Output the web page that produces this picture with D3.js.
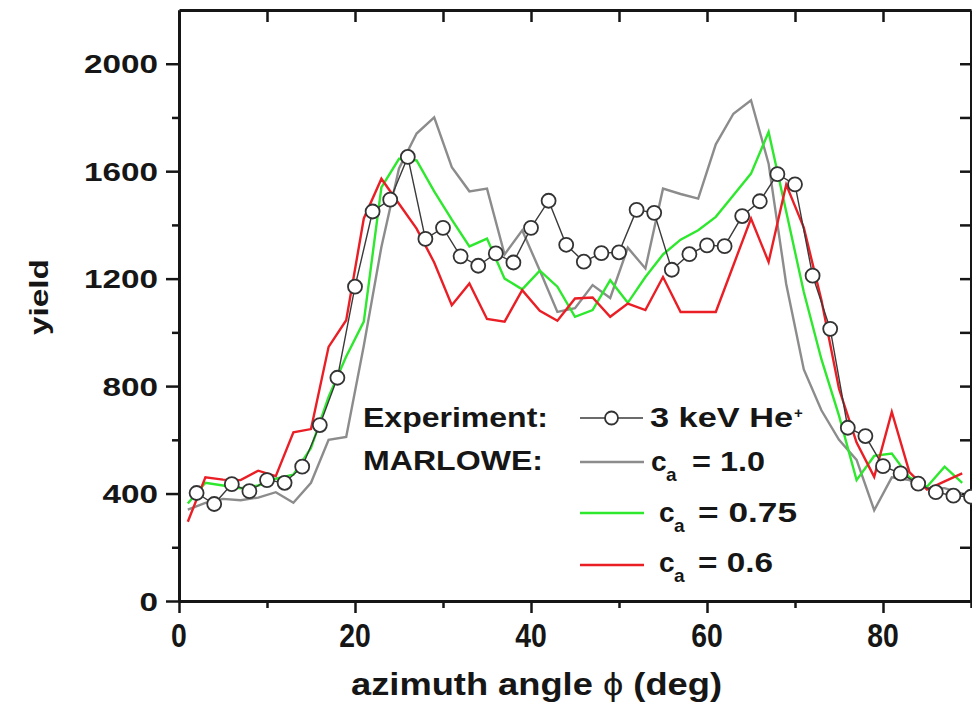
<!DOCTYPE html>
<html><head><meta charset="utf-8">
<script src="https://cdn.jsdelivr.net/npm/d3@7"></script>
<style>
body{margin:0;background:#fff}
text{font-family:"Liberation Sans",Arial,sans-serif;font-weight:bold;fill:#161616}
</style>
</head><body>
<svg id="c" width="972" height="706"></svg>
<script>
// ---------- data ----------
const expAngle = [2,4,6,8,10,12,14,16,18,20,22,24,26,28,30,32,34,36,38,40,42,44,46,48,50,52,54,56,58,60,62,64,66,68,70,72,74,76,78,80,82,84,86,88,90];
const expYield = [402,361,435,409,450,440,500,655,831,1170,1450,1494,1653,1348,1389,1283,1248,1294,1260,1389,1490,1326,1263,1295,1298,1456,1445,1233,1291,1324,1321,1433,1488,1589,1551,1211,1013,645,614,502,475,437,405,392,388];

const simAngle = [1,3,5,7,9,11,13,15,17,19,21,23,25,27,29,31,33,35,37,39,41,43,45,47,49,51,53,55,57,59,61,63,65,67,69,71,73,75,77,79,81,83,85,87,89];
const yieldCa100 = [340,365,380,375,385,405,366,440,600,611,950,1318,1610,1740,1800,1615,1525,1535,1290,1380,1230,1076,1090,1176,1128,1315,1238,1535,1515,1498,1700,1814,1864,1628,1180,862,710,600,525,338,460,450,420,420,400];
const yieldCa075 = [363,440,430,420,430,455,470,570,760,910,1040,1540,1646,1640,1525,1420,1320,1349,1200,1160,1230,1170,1058,1083,1194,1110,1206,1290,1345,1380,1430,1510,1591,1746,1450,1150,900,690,450,540,549,460,425,500,440];
const yieldCa060 = [295,460,452,450,485,465,628,640,946,1045,1424,1572,1479,1386,1260,1101,1182,1050,1040,1157,1080,1043,1126,1130,1058,1107,1083,1206,1076,1076,1076,1250,1424,1262,1550,1390,1120,790,590,462,704,480,415,445,475];

const xMajorTicks = [0,20,40,60,80];
const xMinorTicks = [10,30,50,70,90];
const xFrameTicks = [10,20,30,40,50,60,70,80];
const yMajorTicks = [0,400,800,1200,1600,2000];
const yMinorTicks = [200,600,1000,1400,1800];
const yFrameTicks = [200,400,600,800,1000,1200,1400,1600,1800,2000];

const seriesNames = ["3 keV He", "1.0", "0.75", "0.6"];
const seriesColors = ["#3a3a3a", "#8c8c8c", "#2de82d", "#ea1f26"];

// ---------- scales ----------
const svg = d3.select("#c");
const x = d3.scaleLinear().domain([0, 90]).range([179, 971]);
const y = d3.scaleLinear().domain([0, 2200]).range([601, 10]);

// ---------- axes ----------
function styleAxis(g, w) {
  g.select(".domain").attr("stroke", "#161616").attr("stroke-width", 3);
  g.selectAll(".tick line").attr("stroke", "#161616").attr("stroke-width", w || 2.5);
  g.selectAll(".tick text").remove();
}
const axes = svg.append("g");
axes.append("g").attr("transform", "translate(179,0)")
  .call(d3.axisLeft(y).tickValues(yMinorTicks).tickSize(7).tickSizeOuter(0)).call(styleAxis);
axes.append("g").attr("transform", "translate(179,0)")
  .call(d3.axisLeft(y).tickValues(yMajorTicks).tickSize(13).tickSizeOuter(0)).call(styleAxis);
axes.append("g").attr("transform", "translate(0,601)")
  .call(d3.axisBottom(x).tickValues(xMinorTicks).tickSize(7).tickSizeOuter(0)).call(styleAxis);
axes.append("g").attr("transform", "translate(0,601)")
  .call(d3.axisBottom(x).tickValues(xMajorTicks).tickSize(12).tickSizeOuter(0)).call(styleAxis);
axes.append("g").attr("transform", "translate(0,10)")
  .call(d3.axisTop(x).tickValues(xFrameTicks).tickSize(-12).tickSizeOuter(0)).call(styleAxis);
axes.append("g").attr("transform", "translate(971,0)")
  .call(d3.axisRight(y).tickValues(yFrameTicks).tickSize(-11).tickSizeOuter(0)).call(styleAxis);

// tick labels
yMajorTicks.forEach(v => {
  svg.append("g").attr("transform", `translate(158,${y(v) + 9.5}) scale(1.28,1)`)
    .append("text").attr("text-anchor", "end").attr("font-size", 26).text(v);
});
xMajorTicks.forEach(v => {
  svg.append("g").attr("transform", `translate(${x(v)},647) scale(0.86,1)`)
    .append("text").attr("text-anchor", "middle").attr("font-size", 33).text(v);
});

// axis titles
const xt = svg.append("text").attr("x", 351).attr("y", 695).attr("font-size", 32)
  .attr("textLength", 371).attr("lengthAdjust", "spacingAndGlyphs");
xt.append("tspan").text("azimuth angle ");
xt.append("tspan").attr("font-weight", "normal").text("ϕ");
xt.append("tspan").text(" (deg)");

svg.append("text").attr("transform", "translate(48,297) rotate(-90)")
  .attr("text-anchor", "middle").attr("font-size", 25)
  .attr("textLength", 76).attr("lengthAdjust", "spacingAndGlyphs").text("yield");

// ---------- data lines ----------
const line = d3.line().x(d => x(d[0])).y(d => y(d[1]));
const sims = [yieldCa100, yieldCa075, yieldCa060];
sims.forEach((vals, i) => {
  svg.append("path").datum(simAngle.map((a, j) => [a, vals[j]]))
    .attr("d", line).attr("fill", "none")
    .attr("stroke", seriesColors[i + 1]).attr("stroke-width", 2.4)
    .attr("stroke-linejoin", "miter");
});
const expData = expAngle.map((a, j) => [a, expYield[j]]);
svg.append("path").datum(expData).attr("d", line).attr("fill", "none")
  .attr("stroke", seriesColors[0]).attr("stroke-width", 1.4);
svg.append("g").selectAll("circle").data(expData).join("circle")
  .attr("cx", d => x(d[0])).attr("cy", d => y(d[1])).attr("r", 7)
  .attr("fill", "#fff").attr("stroke", "#333").attr("stroke-width", 1.8);

// ---------- legend ----------
const lg = svg.append("g");
lg.append("text").attr("x", 363).attr("y", 427).attr("font-size", 28)
  .attr("textLength", 185).attr("lengthAdjust", "spacingAndGlyphs").text("Experiment:");
lg.append("text").attr("x", 363).attr("y", 470).attr("font-size", 28)
  .attr("textLength", 180).attr("lengthAdjust", "spacingAndGlyphs").text("MARLOWE:");

// experiment symbol
lg.append("line").attr("x1", 580).attr("x2", 643).attr("y1", 418).attr("y2", 418)
  .attr("stroke", seriesColors[0]).attr("stroke-width", 1.4);
lg.append("circle").attr("cx", 611.5).attr("cy", 418).attr("r", 6.5)
  .attr("fill", "#fff").attr("stroke", "#333").attr("stroke-width", 1.8);
lg.append("text").attr("x", 650).attr("y", 427).attr("font-size", 27)
  .attr("textLength", 143).attr("lengthAdjust", "spacingAndGlyphs").text(seriesNames[0]);
lg.append("text").attr("x", 794).attr("y", 418).attr("font-size", 15).text("+");

const rows = [
  {yl: 462, yb: 471, xc: 651, xe: 692, len: 73, i: 1},
  {yl: 513, yb: 522, xc: 659, xe: 698, len: 99, i: 2},
  {yl: 565, yb: 572, xc: 659, xe: 698, len: 75, i: 3}
];
rows.forEach(r => {
  lg.append("line").attr("x1", 580).attr("x2", 644).attr("y1", r.yl).attr("y2", r.yl)
    .attr("stroke", seriesColors[r.i]).attr("stroke-width", 2.4);
  lg.append("text").attr("x", r.xc).attr("y", r.yb).attr("font-size", 28).text("c");
  lg.append("text").attr("x", r.xc + 15).attr("y", r.yb + 10).attr("font-size", 19).text("a");
  lg.append("text").attr("x", r.xe).attr("y", r.yb).attr("font-size", 28)
    .attr("textLength", r.len).attr("lengthAdjust", "spacingAndGlyphs")
    .text("= " + seriesNames[r.i]);
});
</script>
</body></html>
